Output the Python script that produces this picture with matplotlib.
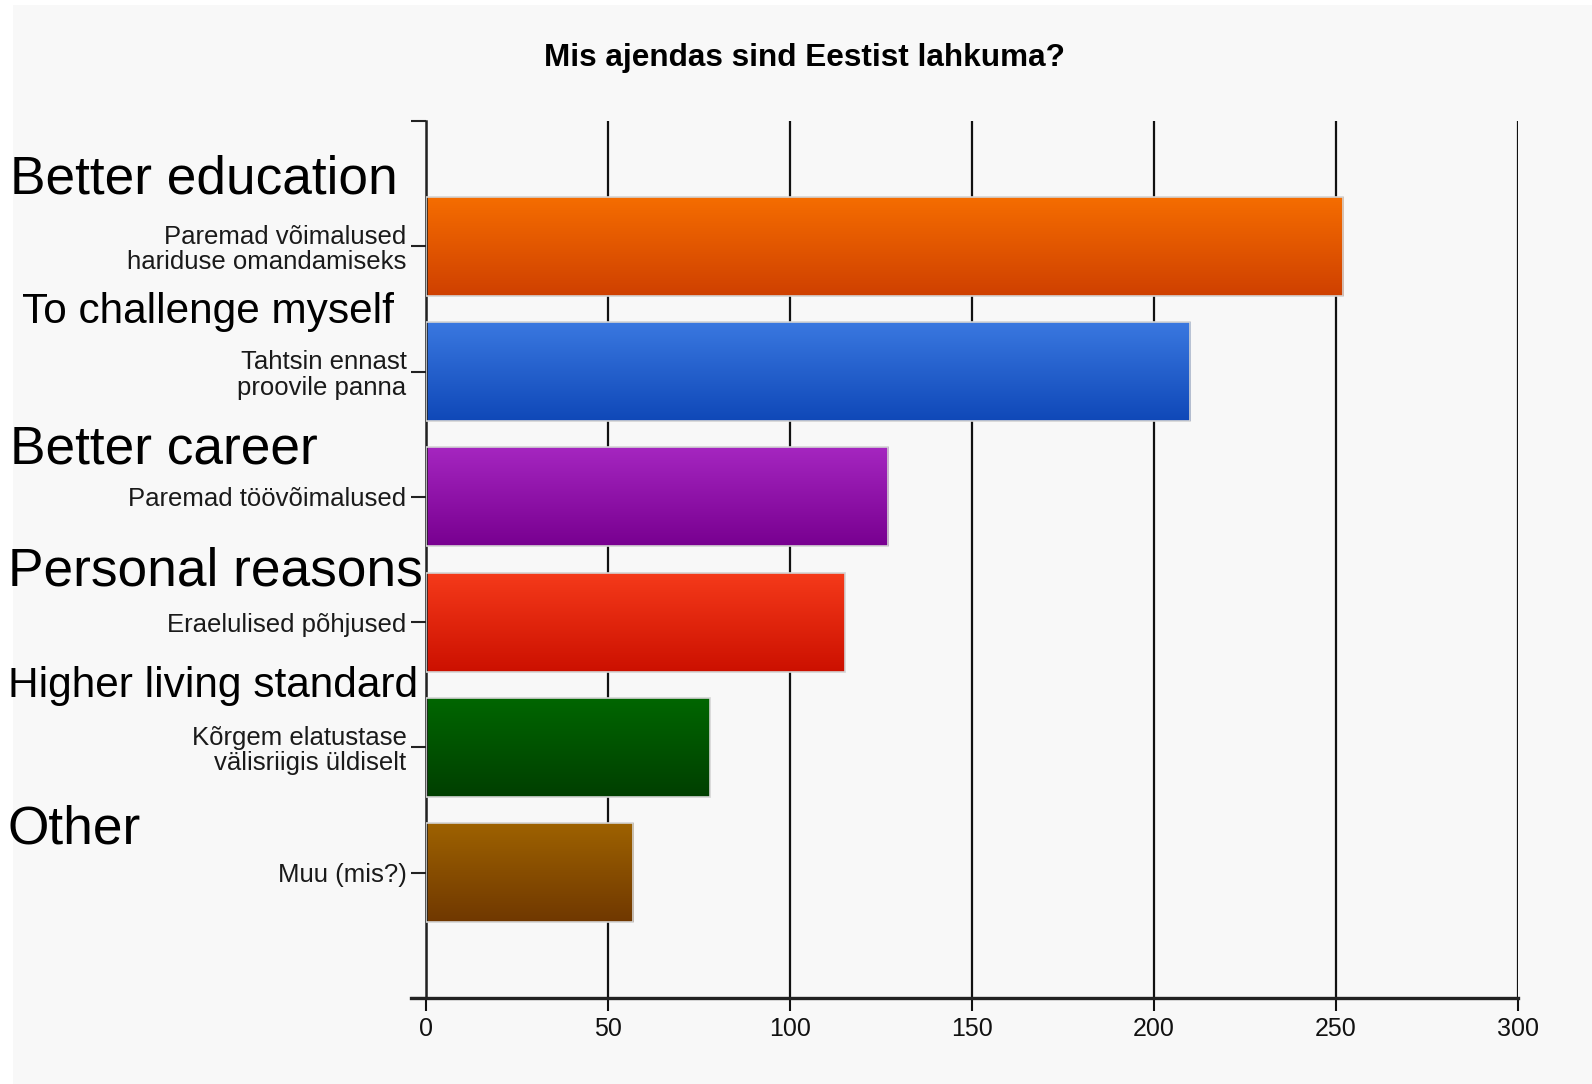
import matplotlib
matplotlib.use("Agg")
import matplotlib.pyplot as plt
import numpy as np
from matplotlib.colors import LinearSegmentedColormap
from matplotlib.patches import Rectangle

title = "Mis ajendas sind Eestist lahkuma?"
categories = [
    "Paremad võimalused\nhariduse omandamiseks",
    "Tahtsin ennast\nproovile panna",
    "Paremad töövõimalused",
    "Eraelulised põhjused",
    "Kõrgem elatustase\nvälisriigis üldiselt",
    "Muu (mis?)",
]
english = ["Better education", "To challenge myself", "Better career",
           "Personal reasons", "Higher living standard", "Other"]
values = [252, 210, 127, 115, 78, 57]
xticks = [0, 50, 100, 150, 200, 250, 300]

top_colors = ["#f56d00", "#3a78e0", "#a526c0", "#f53a1a", "#006600", "#9e6200"]
bottom_colors = ["#cf4000", "#0f48b8", "#780090", "#cc1000", "#003f00", "#703800"]

FAM = ["Liberation Sans", "DejaVu Sans"]
W, H = 1592, 1084
fig = plt.figure(figsize=(W / 100, H / 100), dpi=100, facecolor="white")
fig.patches.append(Rectangle((13 / W, 0), 1 - 13 / W, 1 - 5 / H, transform=fig.transFigure,
                             facecolor="#f8f8f8", edgecolor="none", zorder=-10))

ax = fig.add_axes([426 / W, 1 - 998 / H, (1518 - 426) / W, (998 - 121) / H])
ax.patch.set_alpha(0)

y = np.arange(len(categories))
bars = ax.barh(y, values, height=0.79, color="none", edgecolor="#d4d4d4", linewidth=1.2, zorder=3)
grad = np.linspace(0, 1, 256).reshape(-1, 1)
for b, c1, c2 in zip(bars, top_colors, bottom_colors):
    cmap = LinearSegmentedColormap.from_list("g", [c1, c2])
    x0, y0 = b.get_x(), b.get_y()
    w, h = b.get_width(), b.get_height()
    im = ax.imshow(grad, cmap=cmap, aspect="auto", extent=(x0, x0 + w, y0 + h, y0),
                   origin="upper", zorder=2)
    im.set_clip_path(b)
ax.set_xlim(0, 300)
ax.set_ylim(6, -1)

ax.set_xticks(xticks)
ax.set_xticklabels([str(v) for v in xticks], fontsize=18, color="#111111", family=FAM)
ax.set_yticks(list(range(-1, 7)))
ax.set_yticklabels([""] + categories + [""], fontsize=18.5, color="#1a1a1a",
                   family=FAM, linespacing=1.08)
ax.tick_params(axis="y", length=11, width=1.5, color="#222222", pad=3)
ax.tick_params(axis="x", length=9, width=1.5, color="#111111", pad=5)

ax.grid(axis="x", color="#111111", linewidth=1.6, zorder=1)
ax.set_axisbelow(True)
for s in ["top", "right"]:
    ax.spines[s].set_visible(False)
ax.spines["left"].set_linewidth(1.8)
ax.spines["left"].set_color("#222222")
ax.spines["bottom"].set_linewidth(2.4)
ax.spines["bottom"].set_color("#222222")
ax.spines["bottom"].set_bounds(-4.2, 300)

fig.text(804 / W, 1 - 58 / H, title, ha="center", va="center", fontsize=22.7,
         fontweight="bold", family=FAM, color="#000000")

eng_pos = [(10, 193, 38.3), (22, 323, 30.5), (10, 464, 38.3), (8, 586, 38.3), (8, 697, 30.5), (8, 843, 38.3)]
for txt, (x, yy, fs) in zip(english, eng_pos):
    fig.text(x / W, 1 - yy / H, txt, ha="left", va="baseline", fontsize=fs,
             family=FAM, color="black")

fig.savefig("out.png", dpi=100, facecolor="white")
